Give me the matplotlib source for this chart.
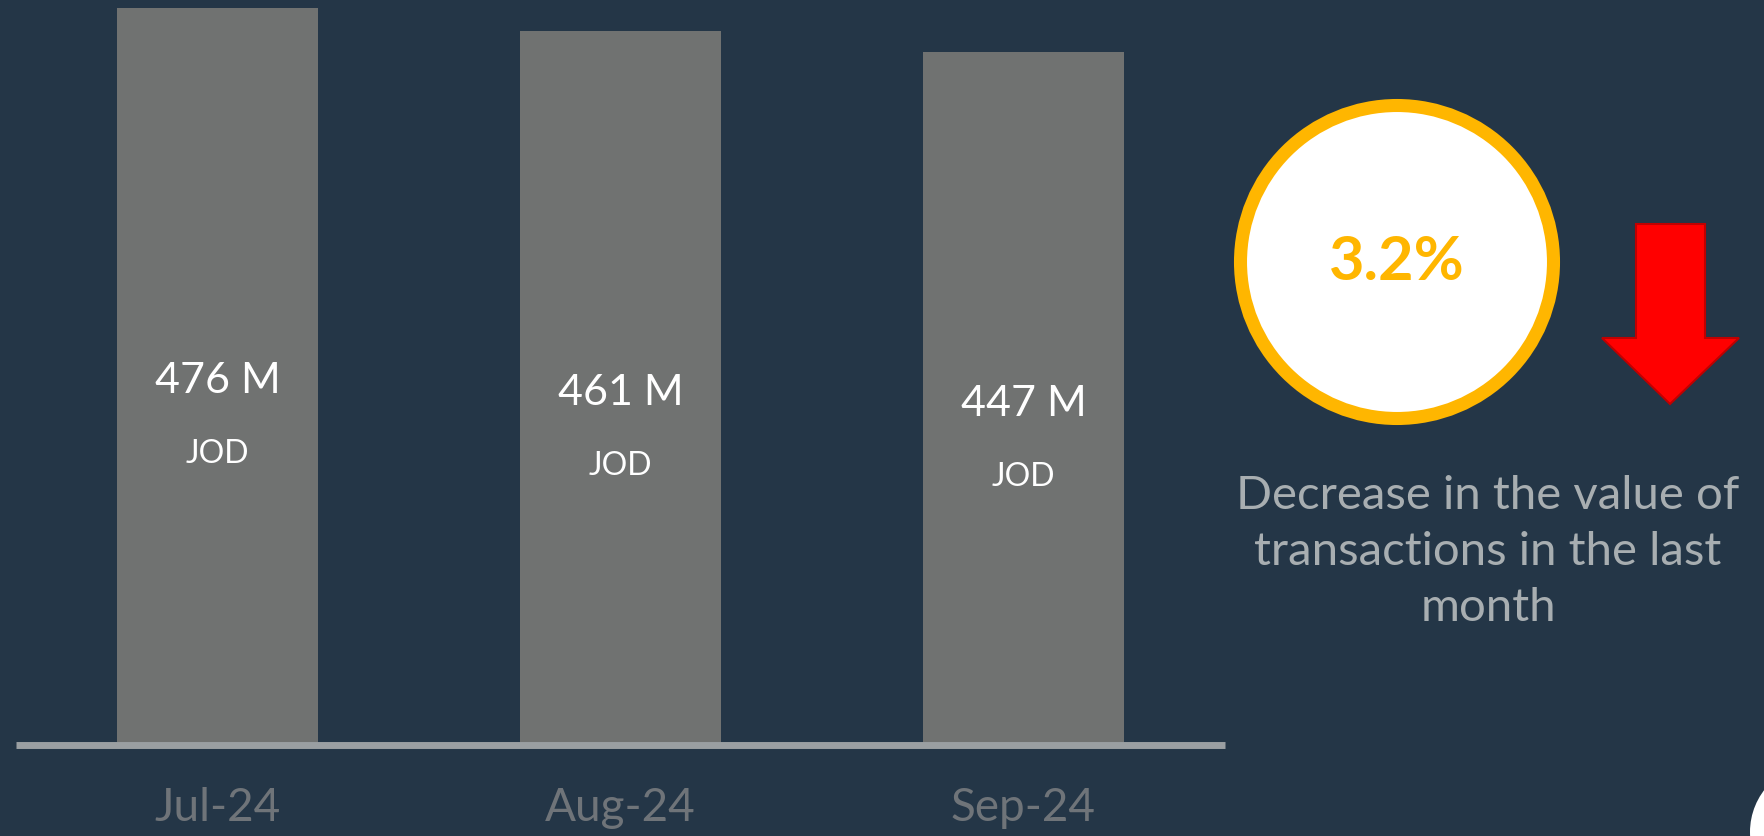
import matplotlib
matplotlib.use("Agg")
import matplotlib.pyplot as plt
from matplotlib.patches import Circle, Polygon

plt.rcParams['font.family'] = ['Lato', 'DejaVu Sans']

# --- data ---
months = ["Jul-24", "Aug-24", "Sep-24"]
values = [476, 461, 447]          # million JOD
value_labels = ["476 M", "461 M", "447 M"]
unit = "JOD"
pct_change = "3.2%"
caption = "Decrease in the value of\ntransactions in the last\nmonth"

# --- colours ---
bg = "#243647"
bar_color = "#707271"
base_color = "#9a9fa2"
tick_color = "#6f7479"
ring_color = "#FFB600"
caption_color = "#a8aeb1"

W, H = 1765, 836
fig = plt.figure(figsize=(W / 100, H / 100), dpi=100)
fig.patch.set_facecolor(bg)

# bar chart axes: baseline at y=745px, spans x 16..1225px
ax = fig.add_axes([16 / W, (H - 745) / H, (1225 - 16) / W, 745 / H])
ax.set_facecolor("none")
x = range(len(months))
ax.bar(x, values, width=0.5, color=bar_color, zorder=2)
ax.set_xlim(-0.5, 2.5)
ax.set_ylim(0, max(values) * 745 / 737.5)
ax.axhline(0, color=base_color, lw=5, zorder=3, clip_on=False, solid_capstyle="butt")
ax.axis("off")

for i, v in enumerate(values):
    ax.annotate(value_labels[i], (i, v / 2), xytext=(0, -5), textcoords="offset pixels",
                ha="center", va="center", color="white", fontsize=31)
    ax.annotate(unit, (i, v / 2), xytext=(0, -78), textcoords="offset pixels",
                ha="center", va="center", color="white", fontsize=23)
    ax.annotate(months[i], (i, 0), xytext=(0, -63), textcoords="offset pixels",
                ha="center", va="center", color=tick_color, fontsize=33)

# overlay in pixel coordinates for the KPI callout
ov = fig.add_axes([0, 0, 1, 1])
ov.set_xlim(0, W)
ov.set_ylim(H, 0)
ov.axis("off")
ov.set_facecolor("none")

ov.add_patch(Circle((1397, 262), 156.5, facecolor="white", edgecolor=ring_color, lw=9.4))
ov.text(1397, 262, pct_change, ha="center", va="center", color=ring_color,
        fontsize=44, fontweight="bold")

arrow = [(1636, 224), (1705, 224), (1705, 338), (1739, 338), (1670, 404),
         (1602, 338), (1636, 338)]
ov.add_patch(Polygon(arrow, closed=True, facecolor="#FF0000", edgecolor="#C00000", lw=1.5))

ov.text(1488, 552, caption, ha="center", va="center", color=caption_color,
        fontsize=34, linespacing=1.42)

# page-number bubble peeking in at the corner
ov.add_patch(Circle((1819, 832), 69, facecolor="white", edgecolor="none"))

fig.savefig("out.png", dpi=100, facecolor=bg)
